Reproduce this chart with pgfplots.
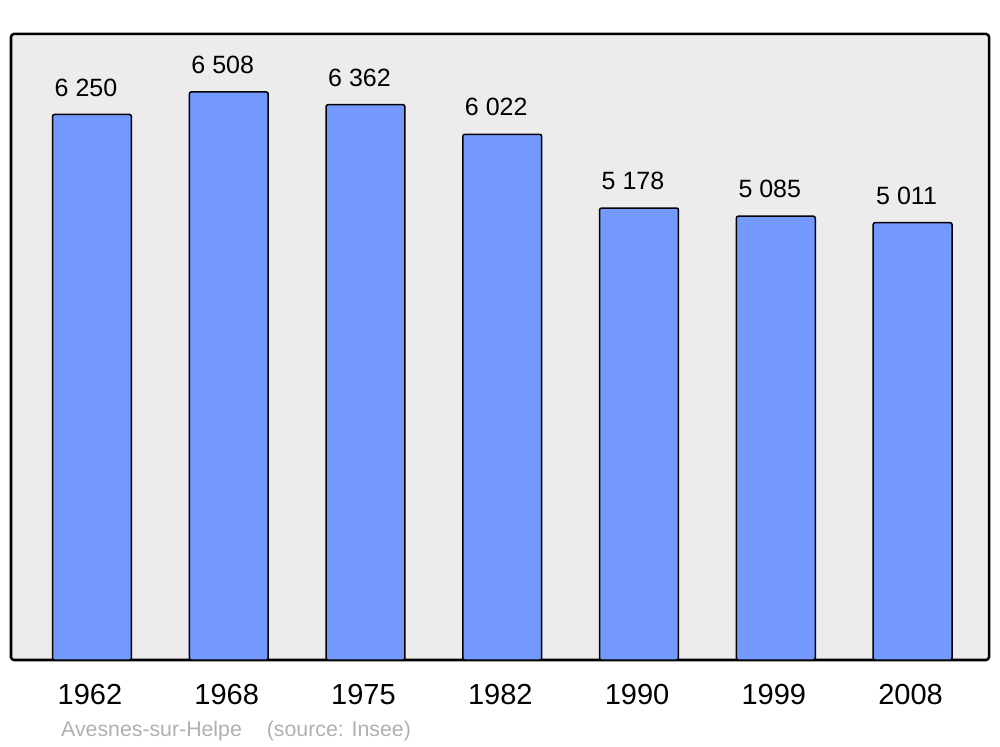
\documentclass[border=0pt]{standalone}
\usepackage{fontspec}
\setmainfont{Liberation Sans}
\usepackage{pgfplots}
\pgfplotsset{compat=1.18}
\definecolor{barblue}{HTML}{7399FF}
\definecolor{bgray}{HTML}{ECECEC}
\definecolor{srcgray}{HTML}{B0B0B0}
\begin{document}
\begin{tikzpicture}
\begin{axis}[
  scale only axis, width=978bp, height=626bp,
  xmin=-0.592, xmax=6.559, ymin=0, ymax=7172,
  axis background/.style={fill=bgray, rounded corners=3bp},
  axis line style={line width=2.5bp, rounded corners=3bp},
  ybar, bar width=0.577, bar shift=0pt,
  xtick={0,1,2,3,4,5,6},
  xticklabels={1962,1968,1975,1982,1990,1999,2008},
  ytick=\empty, major tick length=0pt,
  xticklabel style={font=\fontsize{29bp}{32bp}\selectfont, anchor=center, yshift=-35bp, xshift=-2bp},
  nodes near coords,
  point meta=y,
  nodes near coords style={font=\fontsize{25bp}{28bp}\selectfont, anchor=center, yshift=27bp, xshift=-6bp, text=black,
    /pgf/number format/.cd, 1000 sep={\ }, assume math mode=true, fixed, precision=0},
  /pgf/number format/assume math mode=true,
  clip=false,
]
\addplot[fill=barblue, draw=black, line width=1.5bp, rounded corners=2bp] coordinates {
  (0,6250) (1,6508) (2,6362) (3,6022) (4,5178) (5,5085) (6,5011)};
\end{axis}
\node[anchor=west, text=srcgray, font=\fontsize{21.3bp}{24bp}\selectfont, inner sep=0pt]
  at ([xshift=50bp, yshift=-71bp]current axis.south west) {Avesnes-sur-Helpe\hspace{25bp}(source: Insee)};
\pgfresetboundingbox
\path ([xshift=-11bp, yshift=-87bp]current axis.south west) rectangle ++(1000bp,747bp);
\end{tikzpicture}
\end{document}
